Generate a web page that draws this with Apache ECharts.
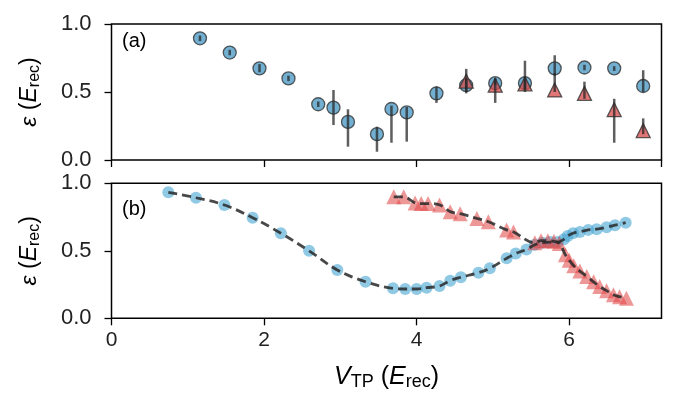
<!DOCTYPE html>
<html><head><meta charset="utf-8">
<script src="https://cdn.jsdelivr.net/npm/echarts@6/dist/echarts.min.js"></script>
<style>html,body{margin:0;padding:0;background:#fff}#c{width:682px;height:394px}</style>
</head><body><div id="c"></div>
<script>
// Panel (a): [x, y, errLow, errHigh]
const blueA = [
  [1.16,0.895,0.875,0.915],[1.55,0.79,0.77,0.81],[1.94,0.674,0.645,0.705],[2.32,0.60,0.58,0.62],
  [2.71,0.41,0.39,0.43],[2.91,0.385,0.257,0.515],[3.10,0.28,0.098,0.373],[3.48,0.19,0.061,0.245],
  [3.67,0.375,0.127,0.40],[3.87,0.35,0.135,0.39],[4.26,0.49,0.42,0.54],[4.65,0.55,0.49,0.60],
  [5.03,0.565,0.55,0.60],[5.42,0.565,0.52,0.61],[5.81,0.674,0.62,0.77],[6.20,0.68,0.66,0.70],
  [6.59,0.674,0.655,0.69],[6.97,0.544,0.50,0.66]
];
const redA = [
  [4.65,0.58,0.50,0.67],[5.03,0.55,0.42,0.60],[5.42,0.56,0.50,0.73],[5.81,0.515,0.50,0.64],
  [6.20,0.49,0.45,0.576],[6.59,0.37,0.127,0.45],[6.97,0.216,0.19,0.306]
];
// Panel (b): [x, y]
const blueB = [
  [0.745,0.933],[1.107,0.893],[1.48,0.839],[1.85,0.745],[2.22,0.63],[2.59,0.50],[2.96,0.358],
  [3.33,0.271],[3.69,0.222],[3.85,0.217],[4.00,0.217],[4.13,0.227],[4.30,0.239],[4.44,0.279],
  [4.58,0.304],[4.81,0.338],[4.96,0.37],[5.18,0.444],[5.30,0.48],[5.44,0.51],[5.55,0.545],
  [5.65,0.56],[5.75,0.565],[5.85,0.565],[5.93,0.585],[5.98,0.61],[6.05,0.63],[6.14,0.64],
  [6.25,0.655],[6.36,0.66],[6.49,0.675],[6.60,0.69],[6.74,0.708]
];
const redB = [
  [3.70,0.90],[3.83,0.90],[3.98,0.855],[4.06,0.85],[4.15,0.85],[4.30,0.84],[4.44,0.79],
  [4.57,0.775],[4.79,0.74],[4.94,0.715],[5.18,0.655],[5.27,0.64],[5.55,0.56],[5.63,0.575],
  [5.72,0.575],[5.80,0.57],[5.87,0.555],[5.95,0.47],[6.00,0.43],[6.06,0.39],[6.14,0.35],
  [6.23,0.31],[6.32,0.27],[6.40,0.235],[6.49,0.205],[6.58,0.175],[6.66,0.16],[6.75,0.148]
];
const xTicks = [0,2,4,6];
const yTicks = [0.0,0.5,1.0];

const FONT = 'Liberation Sans, Arial, sans-serif';
const BLUE_A = 'rgba(70,150,195,0.95)';
const RED_A = 'rgba(215,75,75,0.95)';
const BLUE_B = 'rgba(70,165,210,0.75)';
const RED_B = 'rgba(225,70,70,0.7)';

const chart = echarts.init(document.getElementById('c'), null, {renderer:'canvas'});

function errSeries(data, xi, yi){
  return {
    type:'custom', xAxisIndex:xi, yAxisIndex:yi, z:10,
    data: data.map(d => [d[0], d[2], d[3]]),
    renderItem: function(params, api){
      const p1 = api.coord([api.value(0), api.value(1)]);
      const p2 = api.coord([api.value(0), api.value(2)]);
      return {type:'line', shape:{x1:p1[0],y1:p1[1],x2:p2[0],y2:p2[1]},
        style:{stroke:'rgba(40,40,40,0.75)', lineWidth:2.5}};
    }
  };
}

const yNameRich = {
  i:{fontFamily:FONT, fontStyle:'italic', fontSize:23, color:'#000'},
  n:{fontFamily:FONT, fontSize:23, color:'#000'},
  s:{fontFamily:FONT, fontSize:16, color:'#000', padding:[9,0,0,0]}
};
function yAxis(gi){
  return {
    gridIndex:gi, type:'value', min:0, max:1, interval:0.5,
    name:'{i|ε}{n| (}{i|E}{s|rec}{n|)}', nameLocation:'middle', nameGap:69, nameRotate:90,
    nameTextStyle:{rich:yNameRich},
    axisLine:{show:false}, splitLine:{show:false},
    axisTick:{show:true, length:7, lineStyle:{color:'#000', width:1.3}},
    axisLabel:{fontFamily:FONT, fontSize:22, color:'#222', margin:20,
      formatter:v => v.toFixed(1)}
  };
}
function xAxis(gi, labels){
  const a = {
    gridIndex:gi, type:'value', min:0, max:7.21, interval:2,
    axisLine:{show:false}, splitLine:{show:false},
    axisTick:{show:true, length:7, lineStyle:{color:'#000', width:1.3}},
    axisLabel:{show:labels, fontFamily:FONT, fontSize:21, color:'#222', margin:11,
      showMaxLabel:false, formatter:v => (xTicks.indexOf(v)>=0 ? String(v) : '')}
  };
  if(labels){
    a.name = '{i|V}{s|TP}{n| (}{i|E}{s|rec}{n|)}';
    a.nameLocation = 'middle';
    a.nameGap = 45;
    a.nameTextStyle = {rich:{
      i:{fontFamily:FONT, fontStyle:'italic', fontSize:25, color:'#000'},
      n:{fontFamily:FONT, fontSize:25, color:'#000'},
      s:{fontFamily:FONT, fontSize:18, color:'#000', padding:[10,0,0,0]}
    }};
  }
  return a;
}

chart.setOption({
  animation:false,
  backgroundColor:'#fff',
  grid:[
    {left:111.5, right:20.5, top:24, height:136, show:true, borderColor:'#000', borderWidth:1.5, backgroundColor:'transparent'},
    {left:111.5, right:20.5, top:183.3, height:135, show:true, borderColor:'#000', borderWidth:1.5, backgroundColor:'transparent'}
  ],
  xAxis:[xAxis(0,false), xAxis(1,true)],
  yAxis:[yAxis(0), yAxis(1)],
  graphic:[
    {type:'text', left:122, top:31, style:{text:'(a)', font:'20px '+FONT, fill:'#000'}},
    {type:'text', left:122, top:199, style:{text:'(b)', font:'20px '+FONT, fill:'#000'}}
  ],
  series:[
    {type:'scatter', xAxisIndex:0, yAxisIndex:0, symbol:'circle', symbolSize:13, z:3,
     data: blueA.map(d=>[d[0],d[1]]),
     itemStyle:{color:BLUE_A, borderColor:'#333', borderWidth:1.3}},
    {type:'scatter', xAxisIndex:0, yAxisIndex:0, symbol:'triangle', symbolSize:[14,14], z:4,
     data: redA.map(d=>[d[0],d[1]]),
     itemStyle:{color:RED_A, borderColor:'#333', borderWidth:1.3}},
    errSeries(blueA,0,0),
    errSeries(redA,0,0),
    {type:'scatter', xAxisIndex:1, yAxisIndex:1, symbol:'circle', symbolSize:12, z:3,
     data: blueB, itemStyle:{color:BLUE_B}},
    {type:'scatter', xAxisIndex:1, yAxisIndex:1, symbol:'triangle', symbolSize:15, z:3,
     data: redB, itemStyle:{color:RED_B}},
    {type:'line', xAxisIndex:1, yAxisIndex:1, data: blueB, smooth:0.4, symbol:'none', z:5,
     lineStyle:{color:'rgba(40,40,40,0.85)', width:2.8, type:[9,5]}},
    {type:'line', xAxisIndex:1, yAxisIndex:1, data: redB, smooth:0.4, symbol:'none', z:5,
     lineStyle:{color:'rgba(40,40,40,0.85)', width:2.8, type:[9,5]}}
  ]
});
</script></body></html>
